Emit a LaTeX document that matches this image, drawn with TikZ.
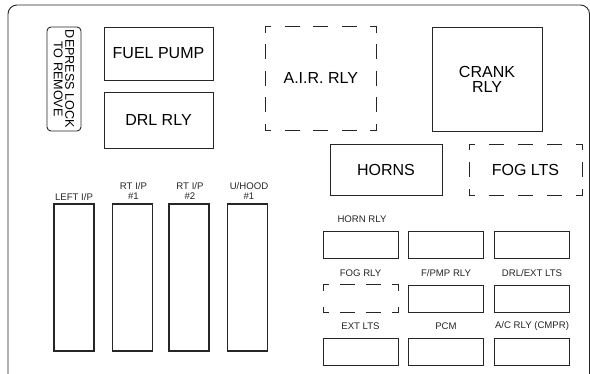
\documentclass[tikz,border=0pt]{standalone}
\usepackage{fontspec}
\setmainfont{Liberation Sans}
\newcommand\cornL{6}
\newcommand\dashL{15}
\newcommand\dashrect[6]{%
  \pgfmathsetmacro\dW{#3-#1}\pgfmathsetmacro\dH{#4-#2}%
  \pgfmathsetmacro\gH{(\dW-2*\cornL-#5*\dashL)/(#5+1)}%
  \pgfmathsetmacro\gV{(\dH-2*\cornL-#6*\dashL)/(#6+1)}%
  \draw[outl] (#1,#2+\cornL) -- (#1,#2) -- (#1+\cornL,#2);
  \draw[outl] (#3-\cornL,#2) -- (#3,#2) -- (#3,#2+\cornL);
  \draw[outl] (#1,#4-\cornL) -- (#1,#4) -- (#1+\cornL,#4);
  \draw[outl] (#3-\cornL,#4) -- (#3,#4) -- (#3,#4-\cornL);
  \ifnum#5>0
  \foreach \i in {1,...,#5}{%
    \pgfmathsetmacro\s{#1+\cornL+\i*\gH+(\i-1)*\dashL}%
    \draw[outl] (\s,#2) -- ++(\dashL,0);
    \draw[outl] (\s,#4) -- ++(\dashL,0);}
  \fi
  \ifnum#6>0
  \foreach \i in {1,...,#6}{%
    \pgfmathsetmacro\s{#2+\cornL+\i*\gV+(\i-1)*\dashL}%
    \draw[outl] (#1,\s) -- ++(0,\dashL);
    \draw[outl] (#3,\s) -- ++(0,\dashL);}
  \fi}
\begin{document}
\begin{tikzpicture}[x=1pt,y=-1pt,
  outl/.style={line width=0.9pt, draw=black!85},
  box/.style={outl, draw, rectangle, inner sep=0pt},
  plainbox/.style={rectangle, inner sep=0pt},
  big/.style={font=\fontsize{16}{15}\selectfont, align=center},
  small/.style={font=\fontsize{9.6}{10}\selectfont, text=black!85, inner sep=0pt, align=center},
  tall/.style={box, line width=1.1pt, minimum width=40, minimum height=147},
  relay/.style={box, minimum width=75, minimum height=27}]
\useasboundingbox (0,0) rectangle (590,373);
\fill[white] (0,0) rectangle (590,373);
\clip (0,0) rectangle (590,373);
% outer frame
\draw[outl, rounded corners=9] (8,380) -- (8,5) -- (589.5,5) -- (589.5,380);
% lock tab
\node[box, rounded corners=4, rotate=-90, minimum width=104, minimum height=34,
      font=\fontsize{12.6}{11.5}\selectfont, align=center] (lock) at (64,79) {DEPRESS LOCK\\TO REMOVE};
% top boxes
\node[box, big, minimum width=109, minimum height=53] (fuel) at (158.5,53.5) {FUEL PUMP};
\node[box, big, minimum width=109, minimum height=56] (drl) at (158.5,120) {DRL RLY};
\node[plainbox, big, minimum width=111, minimum height=103] (air) at (320.8,78.3) {A.I.R. RLY};
\dashrect{265.3}{26.7}{376.3}{130}{3}{3}
\node[box, big, minimum width=110, minimum height=104] (crank) at (487,79) {CRANK\\RLY};
\node[box, big, minimum width=112, minimum height=51] (horns) at (386,169.5) {HORNS};
\node[plainbox, big, minimum width=113, minimum height=51] (foglts) at (525.5,169.5) {FOG LTS};
\dashrect{469}{144}{582}{195}{3}{1}
% tall fuse boxes
\node[tall] (leftip) at (74,277.5) {};
\node[tall] (rtip1) at (132.5,277.5) {};
\node[tall] (rtip2) at (189,277.5) {};
\node[tall] (uhood) at (247.5,277.5) {};
\node[small] (leftipL) at (74,197) {LEFT I/P};
\node[small] (rtip1L) at (133.5,191) {RT I/P\\\#1};
\node[small] (rtip2L) at (190,191) {RT I/P\\\#2};
\node[small] (uhoodL) at (249,191) {U/HOOD\\\#1};
% small relays
\node[relay] (r11) at (360.5,244.5) {};
\node[relay] (r12) at (446,244.5) {};
\node[relay] (r13) at (531.5,244.5) {};
\node[plainbox, minimum width=75, minimum height=28] (r21) at (360.5,298.5) {};
\dashrect{323}{284.7}{398}{312.5}{2}{0}
\node[relay] (r22) at (446,298.5) {};
\node[relay] (r23) at (531.5,298.5) {};
\node[relay] (r31) at (360.5,351.5) {};
\node[relay] (r32) at (446,351.5) {};
\node[relay] (r33) at (531.5,351.5) {};
\node[small] (l11) at (362,219) {HORN RLY};
\node[small] (l21) at (360.5,273) {FOG RLY};
\node[small] (l22) at (446,273) {F/PMP RLY};
\node[small] (l23) at (532,273) {DRL/EXT LTS};
\node[small] (l31) at (360.5,326) {EXT LTS};
\node[small] (l32) at (446,326) {PCM};
\node[small] (l33) at (532,326) {A/C RLY (CMPR)};
\end{tikzpicture}
\end{document}
